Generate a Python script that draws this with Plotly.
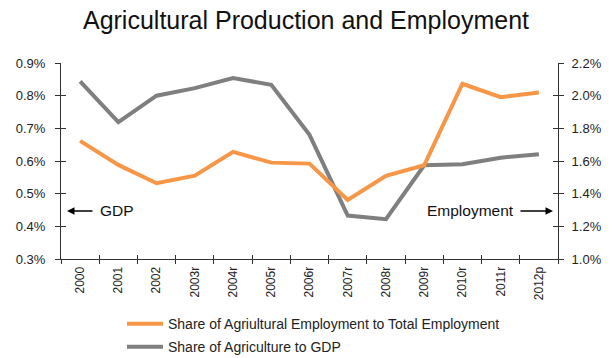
import plotly.graph_objects as go

years = ["2000", "2001", "2002", "2003r", "2004r", "2005r", "2006r",
         "2007r", "2008r", "2009r", "2010r", "2011r", "2012p"]
gdp_share = [0.844, 0.719, 0.800, 0.823, 0.854, 0.833, 0.680,
             0.433, 0.422, 0.587, 0.590, 0.610, 0.621]
emp_share = [1.723, 1.576, 1.464, 1.510, 1.656, 1.590, 1.584,
             1.361, 1.509, 1.574, 2.073, 1.991, 2.020]

ORANGE = "#F79646"
GRAY = "#7F7F7F"
AXIS = "#333333"
TXT = "#222222"
FONT = "Liberation Sans, Arial, sans-serif"

PL, PR, PT, PB = 61, 558, 63.3, 259
PW, PH = PR - PL, PB - PT

fig = go.Figure()
fig.add_trace(go.Scatter(
    x=years, y=emp_share, yaxis="y2", mode="lines",
    name="Share of Agriultural Employment to Total Employment",
    line=dict(color=ORANGE, width=4), legend="legend"))
fig.add_trace(go.Scatter(
    x=years, y=gdp_share, yaxis="y", mode="lines",
    name="Share of Agriculture to GDP",
    line=dict(color=GRAY, width=4), legend="legend2"))

tickfont = dict(family=FONT, size=13, color=TXT)

fig.update_layout(
    width=612, height=358,
    margin=dict(l=PL, r=612 - PR, t=PT, b=358 - PB, autoexpand=False),
    paper_bgcolor="white", plot_bgcolor="white",
    title=dict(text="Agricultural Production and Employment",
               x=0.5, xanchor="center", y=1 - 20 / 358, yanchor="middle",
               font=dict(family=FONT, size=25, color="#111111")),
    xaxis=dict(type="category", range=[-0.5, 12.5], tickson="boundaries",
               ticks="outside", ticklen=4, tickcolor=AXIS, tickwidth=1,
               showline=True, linecolor=AXIS, linewidth=1, showgrid=False,
               tickangle=-90, tickfont=dict(family=FONT, size=12, color=TXT),
               zeroline=False, ticklabelstandoff=2),
    xaxis2=dict(overlaying="x", anchor="y", side="bottom", range=[-0.5, 12.5],
                tick0=-0.5, dtick=1, ticks="inside", ticklen=4, tickcolor=AXIS,
                showticklabels=False, showline=False, showgrid=False,
                zeroline=False),
    yaxis=dict(range=[0.3, 0.9], dtick=0.1, tick0=0.3, tickformat=".1f",
               ticksuffix="%", ticks="outside", ticklen=5, tickcolor=AXIS,
               showline=True, linecolor=AXIS, linewidth=1, showgrid=False,
               zeroline=False, tickfont=tickfont, ticklabelstandoff=7),
    yaxis2=dict(range=[1.0, 2.2], dtick=0.2, tick0=1.0, tickformat=".1f",
                ticksuffix="%", overlaying="y", side="right", anchor="x",
                ticks="outside", ticklen=5, tickcolor=AXIS,
                showline=True, linecolor=AXIS, linewidth=1, showgrid=False,
                zeroline=False, tickfont=tickfont, ticklabelstandoff=5),
    yaxis3=dict(range=[0.3, 0.9], dtick=0.1, tick0=0.3, overlaying="y",
                side="left", anchor="x", ticks="inside", ticklen=5,
                tickcolor=AXIS, showticklabels=False, showline=False,
                showgrid=False, zeroline=False),
    yaxis4=dict(range=[1.0, 2.2], dtick=0.2, tick0=1.0, overlaying="y",
                side="right", anchor="x", ticks="inside", ticklen=5,
                tickcolor=AXIS, showticklabels=False, showline=False,
                showgrid=False, zeroline=False),
    legend=dict(x=(122 - PL) / PW, y=(PB - 324) / PH, itemwidth=36,
                xanchor="left", yanchor="middle",
                bgcolor="rgba(0,0,0,0)", borderwidth=0,
                font=dict(family=FONT, size=14, color=TXT)),
    legend2=dict(x=(122 - PL) / PW, y=(PB - 347) / PH, itemwidth=36,
                 xanchor="left", yanchor="middle",
                 bgcolor="rgba(0,0,0,0)", borderwidth=0,
                 font=dict(family=FONT, size=14, color=TXT)),
    showlegend=True,
)

# invisible helper traces so the overlay tick axes are drawn
fig.add_trace(go.Scatter(x=[0], y=[0.5], xaxis="x2", yaxis="y3",
                         mode="markers", marker=dict(opacity=0),
                         showlegend=False, hoverinfo="skip"))
fig.add_trace(go.Scatter(x=[0], y=[1.5], xaxis="x2", yaxis="y4",
                         mode="markers", marker=dict(opacity=0),
                         showlegend=False, hoverinfo="skip"))

ann_font = dict(family=FONT, size=15.5, color="#111111")
arrow_y = (PB - 211) / PH
fig.add_annotation(xref="paper", yref="paper", x=(67 - PL) / PW, y=arrow_y,
                   ax=27, ay=0, text="", showarrow=True, arrowhead=2,
                   arrowsize=1, arrowwidth=1.5, arrowcolor="#000000")
fig.add_annotation(xref="paper", yref="paper", x=(99 - PL) / PW, y=arrow_y,
                   xanchor="left", yanchor="middle", text="GDP",
                   showarrow=False, font=ann_font, borderpad=0)
fig.add_annotation(xref="paper", yref="paper", x=(515 - PL) / PW, y=arrow_y,
                   xanchor="right", yanchor="middle", text="Employment",
                   showarrow=False, font=ann_font, borderpad=0)
fig.add_annotation(xref="paper", yref="paper", x=(553 - PL) / PW, y=arrow_y,
                   ax=-34, ay=0, text="", showarrow=True, arrowhead=2,
                   arrowsize=1, arrowwidth=1.5, arrowcolor="#000000")

fig.write_html("out.html",
               config={"displayModeBar": False},
               post_script="document.body.style.margin='0';"
                           "document.body.style.overflow='hidden';")
